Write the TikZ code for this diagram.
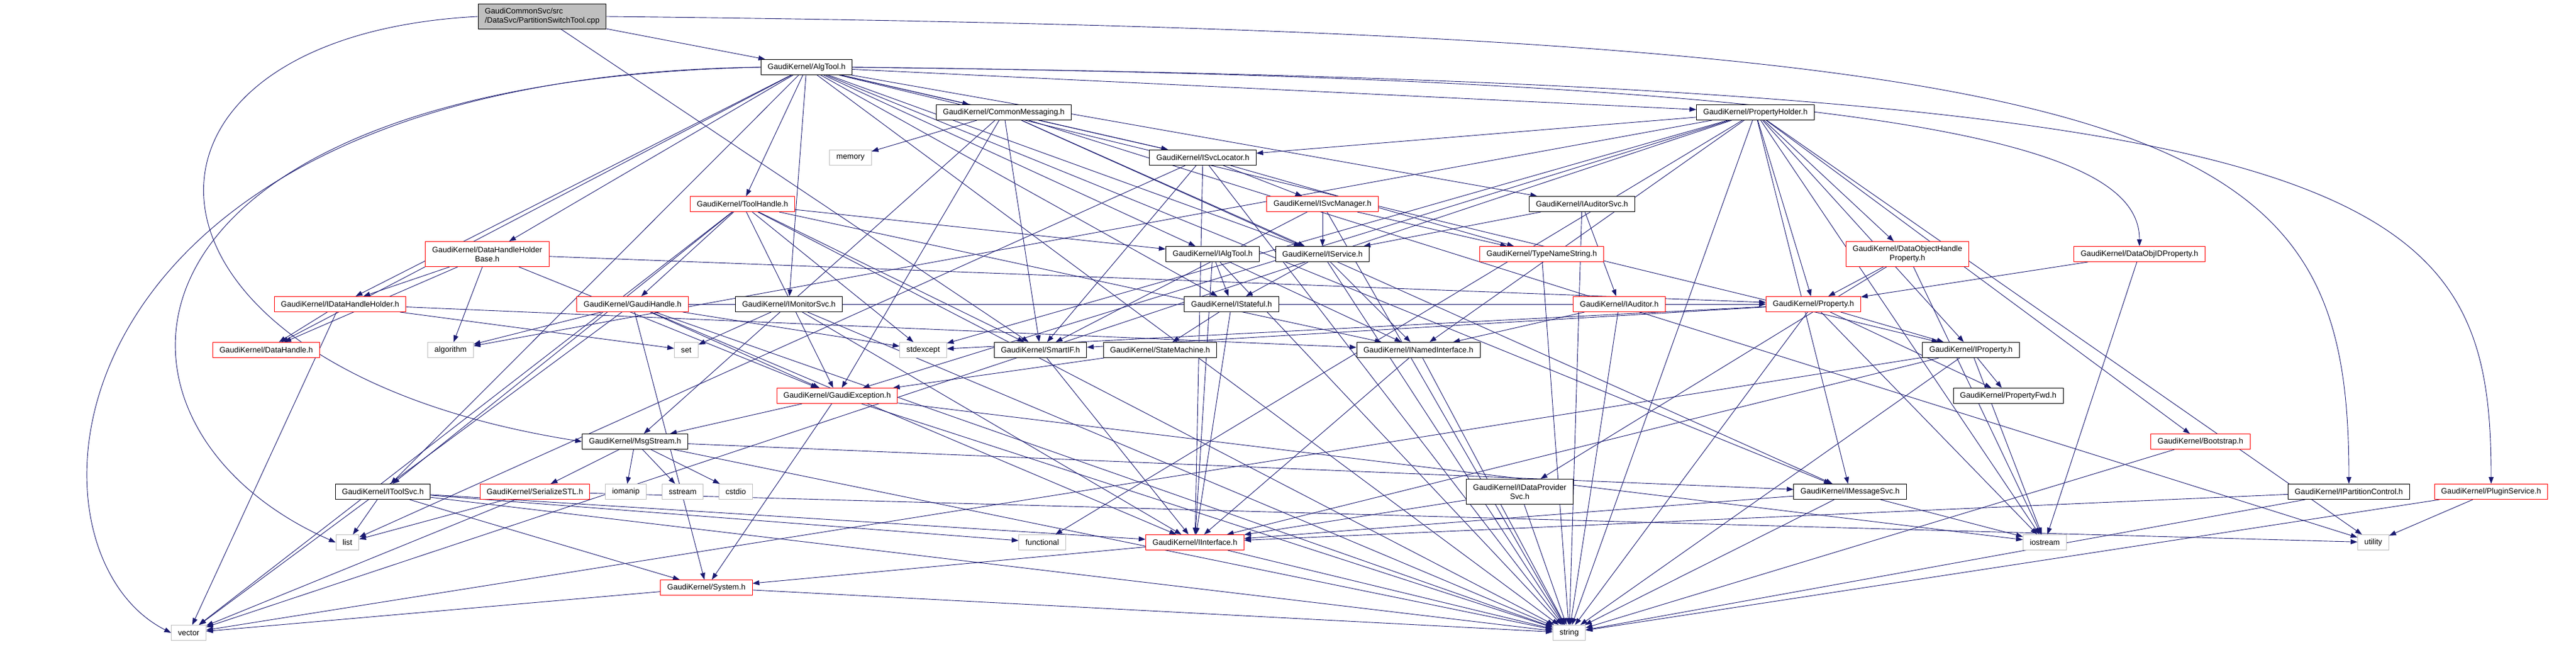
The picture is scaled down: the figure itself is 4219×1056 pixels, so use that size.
\documentclass[tikz,border=0pt]{standalone}
\usepackage{fontspec}
\setmainfont{Liberation Sans}
\usetikzlibrary{arrows.meta,backgrounds}

\definecolor{edgeblue}{RGB}{25,25,112}
\definecolor{sysgray}{RGB}{191,191,191}

\tikzset{
  incbox/.style={draw=black,fill=white,line width=1pt,inner xsep=11pt,inner ysep=0pt,
    minimum height=25pt,font=\fontsize{12.8}{15}\selectfont},
  incpart/.style={incbox,draw=red},
  incsys/.style={incbox,draw=sysgray},
  twoline/.style={align=center,minimum height=41pt},
  dep/.style={draw=edgeblue,line width=0.9pt,-{Triangle[length=11pt,width=8pt]}},
}

\begin{document}
\begin{tikzpicture}[x=1pt,y=-1pt]
\useasboundingbox (0,0) rectangle (4219,1056);

% rank 0 - 2
\node[incbox,fill=sysgray,align=left,minimum height=41pt] (cpp) at (888,27) {GaudiCommonSvc/src\\/DataSvc/PartitionSwitchTool.cpp};
\node[incbox] (algtool) at (1321,110) {GaudiKernel/AlgTool.h};
\node[incbox] (cmsg) at (1644,184) {GaudiKernel/CommonMessaging.h};
\node[incbox] (propholder) at (2875,184) {GaudiKernel/PropertyHolder.h};

% rank 3 - 4
\node[incsys] (memory) at (1393,258) {memory};
\node[incbox] (svcloc) at (1970,258) {GaudiKernel/ISvcLocator.h};
\node[incpart] (toolhandle) at (1216,334) {GaudiKernel/ToolHandle.h};
\node[incpart] (svcmgr) at (2166,334) {GaudiKernel/ISvcManager.h};
\node[incbox] (auditorsvc) at (2591,334) {GaudiKernel/IAuditorSvc.h};

% rank 5
\node[incpart,twoline] (dhhbase) at (798,416) {GaudiKernel/DataHandleHolder\\Base.h};
\node[incbox] (ialgtool) at (1986,416) {GaudiKernel/IAlgTool.h};
\node[incbox] (iservice) at (2166,416) {GaudiKernel/IService.h};
\node[incpart] (typename) at (2525,416) {GaudiKernel/TypeNameString.h};
\node[incpart,twoline] (dohprop) at (3124,416) {GaudiKernel/DataObjectHandle\\Property.h};
\node[incpart] (doidprop) at (3504,416) {GaudiKernel/DataObjIDProperty.h};

% rank 6
\node[incpart] (idhh) at (557,498) {GaudiKernel/IDataHandleHolder.h};
\node[incpart] (gaudihandle) at (1036,498) {GaudiKernel/GaudiHandle.h};
\node[incbox] (imonitor) at (1292,498) {GaudiKernel/IMonitorSvc.h};
\node[incbox] (istateful) at (2017,498) {GaudiKernel/IStateful.h};
\node[incpart] (iauditor) at (2652,498) {GaudiKernel/IAuditor.h};
\node[incpart] (property) at (2970,498) {GaudiKernel/Property.h};

% rank 7
\node[incpart] (datahandle) at (436,573) {GaudiKernel/DataHandle.h};
\node[incsys] (algorithm) at (738,573) {algorithm};
\node[incsys] (set) at (1124,573) {set};
\node[incsys] (stdexcept) at (1512,573) {stdexcept};
\node[incbox] (smartif) at (1704,573) {GaudiKernel/SmartIF.h};
\node[incbox] (statemachine) at (1900,573) {GaudiKernel/StateMachine.h};
\node[incbox] (inamed) at (2323,573) {GaudiKernel/INamedInterface.h};
\node[incbox] (iproperty) at (3228,573) {GaudiKernel/IProperty.h};

% rank 8 - 9
\node[incpart] (gexception) at (1371,648) {GaudiKernel/GaudiException.h};
\node[incbox] (propfwd) at (3289,648) {GaudiKernel/PropertyFwd.h};
\node[incbox] (msgstream) at (1040,723) {GaudiKernel/MsgStream.h};
\node[incpart] (bootstrap) at (3604,723) {GaudiKernel/Bootstrap.h};

% rank 10
\node[incbox] (itoolsvc) at (627,805) {GaudiKernel/IToolSvc.h};
\node[incpart] (serialize) at (876,805) {GaudiKernel/SerializeSTL.h};
\node[incsys] (iomanip) at (1025,805) {iomanip};
\node[incsys] (sstream) at (1118,805) {sstream};
\node[incsys] (cstdio) at (1205,805) {cstdio};
\node[incbox,twoline] (idataprov) at (2489,805) {GaudiKernel/IDataProvider\\Svc.h};
\node[incbox] (imsgsvc) at (3030,805) {GaudiKernel/IMessageSvc.h};
\node[incbox] (ipartition) at (3847,805) {GaudiKernel/IPartitionControl.h};
\node[incpart] (plugin) at (4080,805) {GaudiKernel/PluginService.h};

% rank 11 - 13
\node[incsys] (list) at (569,888) {list};
\node[incsys] (functional) at (1707,888) {functional};
\node[incpart] (iinterface) at (1957,888) {GaudiKernel/IInterface.h};
\node[incsys] (iostream) at (3349,888) {iostream};
\node[incsys] (utility) at (3887,888) {utility};
\node[incpart] (system) at (1157,962) {GaudiKernel/System.h};
\node[incsys] (vector) at (309,1036) {vector};
\node[incsys] (string) at (2570,1036) {string};

\begin{scope}[on background layer]
  % source file
  \foreach \t in {algtool,smartif} \draw[dep] (cpp) -- (\t);
  \draw[dep] (cpp.east) .. controls (3600,55) and (3847,200) .. (ipartition.north);
  \draw[dep] (cpp.west) .. controls (150,60) and (170,600) .. (msgstream.west);
  % AlgTool.h
  \foreach \t in {cmsg,propholder,svcloc,toolhandle,auditorsvc,dhhbase,ialgtool,iservice,
      idhh,imonitor,istateful,datahandle,iproperty,itoolsvc,imsgsvc,string}
    \draw[dep] (algtool) -- (\t);
  \draw[dep] (algtool.east) .. controls (3900,140) and (4080,300) .. (plugin.north);
  \draw[dep] (algtool.east) .. controls (3200,130) and (3504,250) .. (doidprop.north);
  \draw[dep] (algtool.west) .. controls (60,125) and (10,900) .. (vector.west);
  \draw[dep] (algtool.west) .. controls (140,135) and (120,700) .. (list.west);
  % second level
  \foreach \t in {memory,svcloc,iservice,smartif,gexception,msgstream,imsgsvc,utility}
    \draw[dep] (cmsg) -- (\t);
  \foreach \t in {svcloc,property,iproperty,dohprop,bootstrap,gexception,imsgsvc,inamed,
      algorithm,functional,iostream,stdexcept,string,utility,vector}
    \draw[dep] (propholder) -- (\t);
  \foreach \t in {iinterface,svcmgr,smartif,typename,list,string}
    \draw[dep] (svcloc) -- (\t);
  \foreach \t in {gaudihandle,ialgtool,inamed,itoolsvc,smartif,gexception,stdexcept,string,vector}
    \draw[dep] (toolhandle) -- (\t);
  \foreach \t in {iservice,smartif,typename,string} \draw[dep] (svcmgr) -- (\t);
  \foreach \t in {iservice,iauditor,string} \draw[dep] (auditorsvc) -- (\t);
  \foreach \t in {idhh,datahandle,algorithm,gexception,property} \draw[dep] (dhhbase) -- (\t);
  \foreach \t in {datahandle,vector,set,inamed} \draw[dep] (idhh) -- (\t);
  \foreach \t in {algorithm,gexception,iinterface,system,string,vector,stdexcept,property}
    \draw[dep] (gaudihandle) -- (\t);
  \foreach \t in {set,iinterface,string} \draw[dep] (imonitor) -- (\t);
  \foreach \t in {istateful,inamed,iinterface,string} \draw[dep] (ialgtool) -- (\t);
  \foreach \t in {istateful,inamed,string} \draw[dep] (iservice) -- (\t);
  \draw[dep] (typename) -- (string);
  \foreach \t in {property,idataprov,iostream} \draw[dep] (dohprop) -- (\t);
  \foreach \t in {property,iostream} \draw[dep] (doidprop) -- (\t);
  \foreach \t in {statemachine,iinterface} \draw[dep] (istateful) -- (\t);
  \foreach \t in {inamed,string} \draw[dep] (iauditor) -- (\t);
  \foreach \t in {iproperty,propfwd,smartif,stdexcept,string,iostream} \draw[dep] (property) -- (\t);
  \draw[dep] (smartif) -- (iinterface);
  \draw[dep] (statemachine) -- (gexception);
  \foreach \t in {iinterface,string} \draw[dep] (inamed) -- (\t);
  \foreach \t in {propfwd,iinterface,iostream,string,vector} \draw[dep] (iproperty) -- (\t);
  \foreach \t in {msgstream,system,string,iostream} \draw[dep] (gexception) -- (\t);
  \foreach \t in {imsgsvc,serialize,iomanip,sstream,cstdio,string} \draw[dep] (msgstream) -- (\t);
  \draw[dep] (bootstrap) -- (string);
  % lower levels
  \foreach \t in {vector,list,utility} \draw[dep] (serialize) -- (\t);
  \foreach \t in {iinterface,system,functional,list,string} \draw[dep] (itoolsvc) -- (\t);
  \foreach \t in {iinterface,string} \draw[dep] (idataprov) -- (\t);
  \foreach \t in {iinterface,iostream,string} \draw[dep] (imsgsvc) -- (\t);
  \foreach \t in {iinterface,string} \draw[dep] (ipartition) -- (\t);
  \foreach \t in {string,utility} \draw[dep] (plugin) -- (\t);
  \foreach \t in {system,string} \draw[dep] (iinterface) -- (\t);
  \foreach \t in {string,vector} \draw[dep] (system) -- (\t);
\end{scope}
\end{tikzpicture}
\end{document}
